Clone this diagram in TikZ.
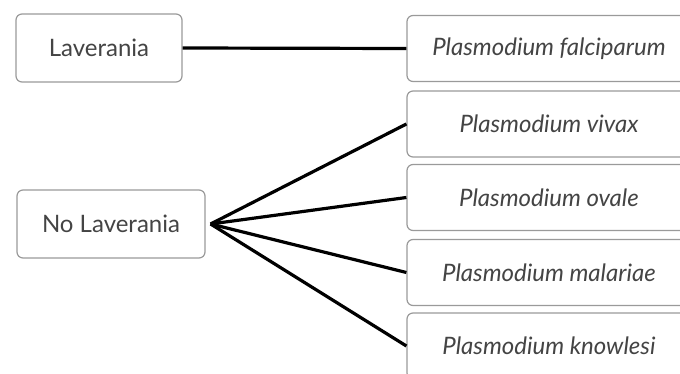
\documentclass[tikz,border=0pt]{standalone}
\usepackage{fontspec}
\setmainfont{Lato}
\definecolor{boxline}{HTML}{9A9A9A}
\definecolor{txt}{HTML}{444444}
\begin{document}
\begin{tikzpicture}[x=0.5pt,y=-0.5pt,
  taxon/.style={draw=boxline, line width=0.6pt, rounded corners=3pt, fill=white,
    text=txt, font=\fontsize{12}{14}\selectfont, inner sep=0pt, align=center},
  species/.style={taxon, minimum width=142pt, minimum height=33pt, font=\fontsize{12}{14}\selectfont\itshape},
  link/.style={line width=1.6pt, black}]
\useasboundingbox (0,0) rectangle (680,374);
\node[taxon, minimum width=83pt, minimum height=34pt] (lav) at (99,48) {Laverania};
\node[taxon, minimum width=94pt, minimum height=34pt] (nol) at (111,224) {No Laverania};
\node[species] (fal) at (549,48.5) {Plasmodium falciparum};
\node[species] (viv) at (549,124) {Plasmodium vivax};
\node[species] (ova) at (549,197.5) {Plasmodium ovale};
\node[species] (mal) at (549,272.5) {Plasmodium malariae};
\node[species] (kno) at (549,346) {Plasmodium knowlesi};
\coordinate (fan) at ([xshift=2.5pt]nol.east);
\draw[link] (lav.east) -- (fal.west);
\draw[link] (fan) -- (viv.west);
\draw[link] (fan) -- (ova.west);
\draw[link] (fan) -- (mal.west);
\draw[link] (fan) -- (kno.west);
\end{tikzpicture}
\end{document}
